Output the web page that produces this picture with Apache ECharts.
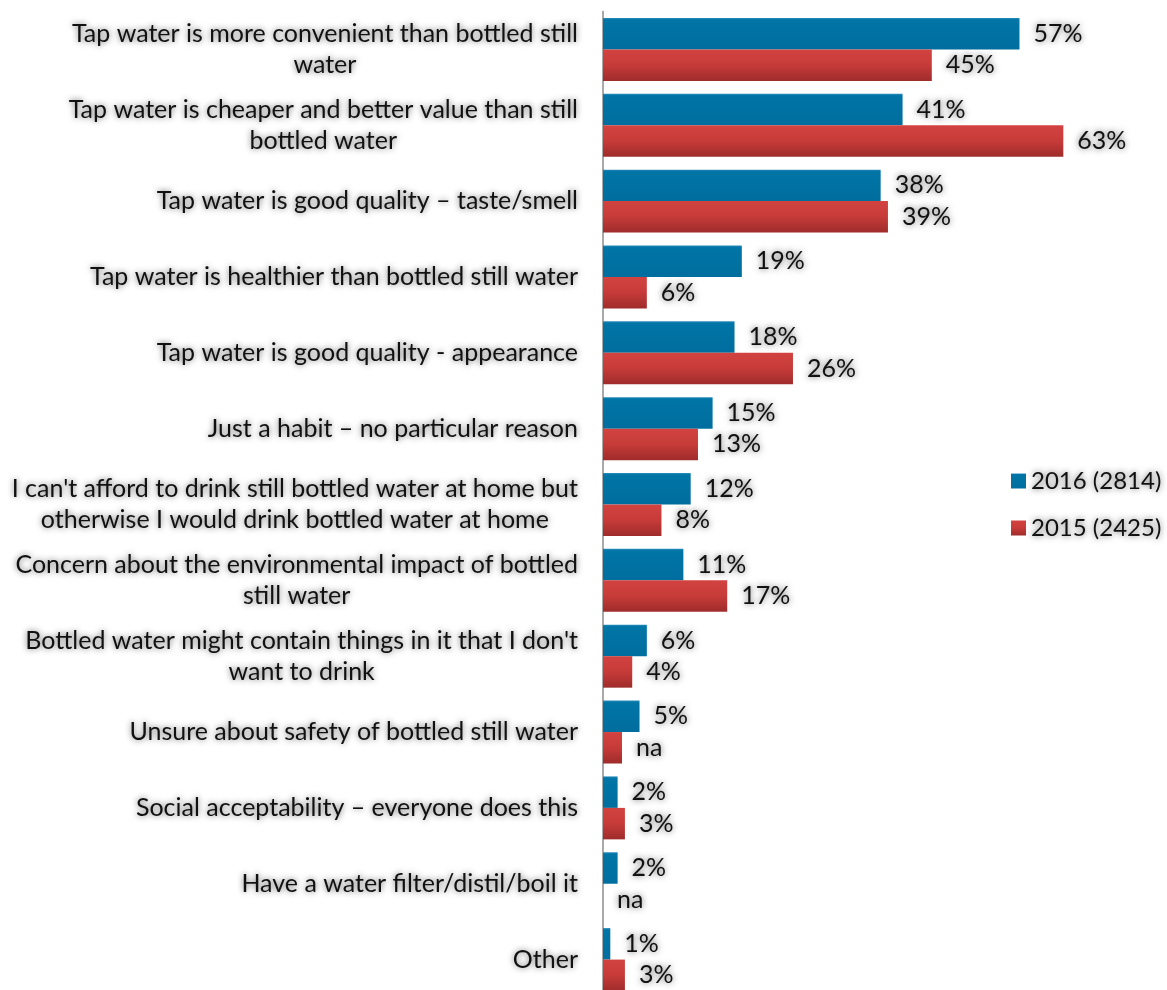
<!DOCTYPE html>
<html>
<head>
<meta charset="utf-8">
<script src="https://cdn.jsdelivr.net/npm/echarts@6/dist/echarts.min.js"></script>
<style>
  html, body { margin: 0; padding: 0; background: #ffffff; }
  #chart { width: 1167px; height: 990px; }
</style>
</head>
<body>
<div id="chart"></div>
<script>
// Reasons for drinking tap water, survey share by year (%)
const categories = [
  "Tap water is more convenient than bottled still\nwater",
  "Tap water is cheaper and better value than still\nbottled water",
  "Tap water is good quality \u2013 taste/smell",
  "Tap water is healthier than bottled still water",
  "Tap water is good quality - appearance",
  "Just a habit \u2013 no particular reason",
  "I can't afford to drink still bottled water at home but\notherwise I would drink bottled water at home",
  "Concern about the environmental impact of bottled\nstill water",
  "Bottled water might contain things in it that I don't\nwant to drink",
  "Unsure about safety of bottled still water",
  "Social acceptability \u2013 everyone does this",
  "Have a water filter/distil/boil it",
  "Other"
];
const seriesNames = ["2016 (2814)", "2015 (2425)"];
const values2016 = [57, 41, 38, 19, 18, 15, 12, 11, 6, 5, 2, 2, 1];
const values2015 = [45, 63, 39, 6, 26, 13, 8, 17, 4, 2.6, 3, 0, 3];
// answers not asked in 2015 are labelled "na"
const notAsked2015 = [false, false, false, false, false, false, false, false, false, true, false, true, false];

const FONT = "Lato";
const glow = { textShadowColor: "rgba(0,0,0,0.6)", textShadowBlur: 6 };

const blueFill = new echarts.graphic.LinearGradient(0, 0, 0, 1, [
  { offset: 0, color: "#2a8cbc" },
  { offset: 0.06, color: "#0075a6" },
  { offset: 1, color: "#006e9e" }
]);
const redFill = new echarts.graphic.LinearGradient(0, 0, 0, 1, [
  { offset: 0, color: "#d24340" },
  { offset: 0.5, color: "#c63b39" },
  { offset: 1, color: "#9e2c2b" }
]);

const valueLabel = (naList) => ({
  show: true,
  position: "right",
  distance: 14,
  fontFamily: FONT,
  fontSize: 25,
  color: "#111",
  ...glow,
  formatter: (p) => (naList && naList[p.dataIndex]) ? "na" : p.value + "%"
});

const chart = echarts.init(document.getElementById("chart"), null, { renderer: "canvas" });
chart.setOption({
  animation: false,
  backgroundColor: "#ffffff",
  grid: {
    left: 603, right: 16, top: 11.5, height: 986,
    containLabel: false,
    outerBoundsMode: "none"
  },
  legend: {
    orient: "vertical",
    left: 1006,
    top: 464,
    itemWidth: 15,
    itemHeight: 15,
    itemGap: 23,
    icon: "rect",
    textStyle: { fontFamily: FONT, fontSize: 24, color: "#111", ...glow },
    data: seriesNames
  },
  xAxis: {
    type: "value",
    min: 0,
    max: 75,
    show: false
  },
  yAxis: {
    type: "category",
    inverse: true,
    data: categories,
    axisLine: { show: true, lineStyle: { color: "#8c8c8c", width: 1.5 } },
    axisTick: { show: false },
    axisLabel: {
      margin: 25,
      fontFamily: FONT,
      fontSize: 25,
      color: "#111",
      lineHeight: 31,
      ...glow,
      formatter: (v) => v.split("\n").map((line) => "{c|" + line + "}").join("\n"),
      rich: {
        c: { align: "center", fontFamily: FONT, fontSize: 25, color: "#111", lineHeight: 31, ...glow }
      }
    }
  },
  series: [
    {
      name: seriesNames[0],
      type: "bar",
      data: values2016,
      barGap: "0%",
      barCategoryGap: "17%",
      itemStyle: { color: blueFill },
      label: valueLabel(null)
    },
    {
      name: seriesNames[1],
      type: "bar",
      data: values2015,
      barGap: "0%",
      barCategoryGap: "17%",
      itemStyle: { color: redFill },
      label: valueLabel(notAsked2015)
    }
  ]
});
</script>
</body>
</html>
